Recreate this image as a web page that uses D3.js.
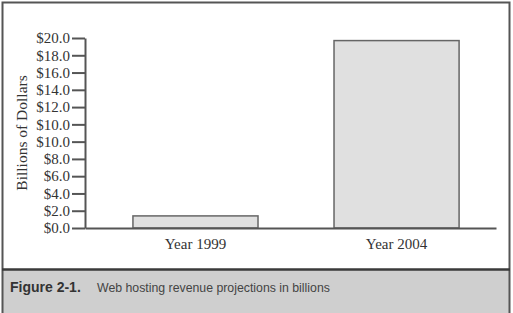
<!DOCTYPE html>
<html>
<head>
<meta charset="utf-8">
<script src="https://cdn.jsdelivr.net/npm/d3@7"></script>
<style>
  body { margin: 0; background: #fff; }
  svg { display: block; }
</style>
</head>
<body>
<div id="chart"></div>
<script>
// data
const categories = ["Year 1999", "Year 2004"];
const revenue = [1.4, 21.7];
const tickValues = [0, 2, 4, 6, 8, 10, 12, 14, 16, 18, 20, 22];
const tickLabels = ["$0.0", "$2.0", "$4.0", "$6.0", "$8.0", "$10.0", "$10.0", "$12.0", "$14.0", "$16.0", "$18.0", "$20.0"];
const yTitle = "Billions of Dollars";
const figNum = "Figure 2-1.";
const figCaption = "Web hosting revenue projections in billions";

const W = 513, H = 313;
const serif = "'Liberation Serif', 'DejaVu Serif', serif";
const sans = "'Liberation Sans', Arial, sans-serif";

const svg = d3.select("#chart").append("svg")
  .attr("width", W)
  .attr("height", H);

// frame and caption panel
svg.append("rect")
  .attr("x", 0).attr("y", 0).attr("width", W).attr("height", H)
  .attr("fill", "#fff");
svg.append("rect")
  .attr("x", 2).attr("y", 270).attr("width", 507).attr("height", 50)
  .attr("fill", "#cfcfcf");
svg.append("rect")
  .attr("x", 2.5).attr("y", 2.5).attr("width", 507).attr("height", 330)
  .attr("fill", "none").attr("stroke", "#555").attr("stroke-width", 2);
svg.append("line")
  .attr("x1", 2).attr("x2", 510).attr("y1", 269.5).attr("y2", 269.5)
  .attr("stroke", "#3a3a3a").attr("stroke-width", 2.5);

// scales
const x = d3.scaleBand()
  .domain(categories)
  .range([85, 496])
  .paddingInner(0.378)
  .paddingOuter(0.211)
  .align(0.565);

const y = d3.scaleLinear()
  .domain([0, 22])
  .range([228, 38]);

// bars
svg.selectAll(".bar")
  .data(revenue)
  .enter()
  .append("rect")
  .attr("class", "bar")
  .attr("x", (d, i) => x(categories[i]))
  .attr("y", d => y(d))
  .attr("width", x.bandwidth())
  .attr("height", d => y(0) - y(d))
  .attr("fill", "#e0e0e0")
  .attr("stroke", "#666")
  .attr("stroke-width", 1.5);

// y axis
const yAxis = d3.axisLeft(y)
  .tickValues(tickValues)
  .tickFormat((d, i) => tickLabels[i])
  .tickSize(13)
  .tickPadding(2)
  .tickSizeOuter(0);

const gy = svg.append("g")
  .attr("transform", "translate(85,0)")
  .call(yAxis);
gy.select(".domain").attr("stroke", "#555").attr("stroke-width", 2);
gy.selectAll(".tick line").attr("stroke", "#555").attr("stroke-width", 2);
gy.selectAll(".tick text")
  .attr("fill", "#333")
  .style("font-family", serif)
  .style("font-size", "15px");

// x axis
const xAxis = d3.axisBottom(x).tickSize(0).tickPadding(10);
const gx = svg.append("g")
  .attr("transform", "translate(0,228)")
  .call(xAxis);
gx.select(".domain").attr("stroke", "#555").attr("stroke-width", 2);
gx.selectAll(".tick text")
  .attr("fill", "#333")
  .style("font-family", serif)
  .style("font-size", "15px");

// y title
svg.append("text")
  .attr("transform", "translate(27,133) rotate(-90)")
  .attr("text-anchor", "middle")
  .attr("fill", "#333")
  .style("font-family", serif)
  .style("font-size", "15.5px")
  .text(yTitle);

// caption
svg.append("text")
  .attr("x", 10).attr("y", 292)
  .attr("fill", "#333")
  .style("font-family", sans)
  .style("font-weight", "bold")
  .style("font-size", "14px")
  .text(figNum);
svg.append("text")
  .attr("x", 97).attr("y", 292)
  .attr("fill", "#444")
  .style("font-family", sans)
  .style("font-size", "12.3px")
  .text(figCaption);
</script>
</body>
</html>
